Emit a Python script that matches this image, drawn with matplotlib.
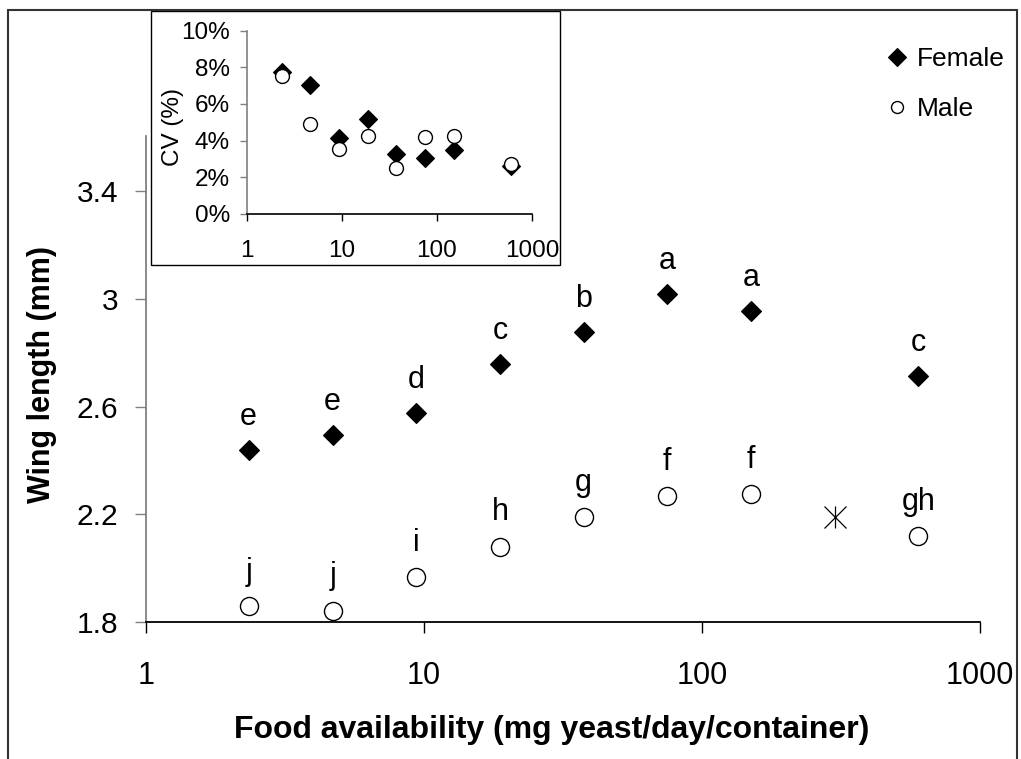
import matplotlib
matplotlib.use("Agg")
import matplotlib.pyplot as plt
from matplotlib.lines import Line2D
from matplotlib.patches import Rectangle
from matplotlib.ticker import FixedLocator, FuncFormatter, NullLocator, PercentFormatter

plt.rcParams['font.family'] = ['Liberation Sans', 'DejaVu Sans']

# food levels (mg yeast/day/container)
food = [2.34, 4.69, 9.38, 18.75, 37.5, 75, 150, 600]
female_wing = [2.439, 2.495, 2.575, 2.759, 2.877, 3.018, 2.956, 2.715]
male_wing = [1.859, 1.842, 1.967, 2.080, 2.189, 2.268, 2.274, 2.119]
female_groups = ['e', 'e', 'd', 'c', 'b', 'a', 'a', 'c']
male_groups = ['j', 'j', 'i', 'h', 'g', 'f', 'f', 'gh']
extra_food = [300]
extra_wing = [2.191]

# coefficient of variation (inset)
female_cv = [0.0776, 0.0704, 0.0416, 0.0517, 0.0327, 0.0307, 0.0349, 0.0262]
male_cv = [0.0755, 0.0491, 0.0353, 0.0427, 0.0253, 0.0418, 0.0427, 0.0273]

x_ticks = [1, 10, 100, 1000]
y_ticks = [1.8, 2.2, 2.6, 3.0, 3.4]
cv_ticks = [0, 0.02, 0.04, 0.06, 0.08, 0.10]

gray = '#808080'
fmt_g = FuncFormatter(lambda v, p: '%g' % v)

fig = plt.figure(figsize=(10.21, 7.59), dpi=100)

# main plot
ax = fig.add_axes([0.143, 0.1805, 0.8168, 0.6403], zorder=0)
ax.set_xscale('log')
ax.set_xlim(1, 1000)
ax.set_ylim(1.8, 3.605)
ax.plot(food, female_wing, ls='none', marker='D', ms=10.3, mfc='black', mec='black', mew=0.8)
ax.plot(food, male_wing, ls='none', marker='o', ms=13, mfc='white', mec='black', mew=1.0)
ax.plot(extra_food, extra_wing, ls='none', marker='x', ms=15.5, mec='black', mew=0.9)
ax.plot(extra_food, extra_wing, ls='none', marker='|', ms=16.5, mec='black', mew=0.9)

for x, y, s in zip(food, female_wing, female_groups):
    ax.annotate(s, (x, y), xytext=(0, 18), textcoords='offset points',
                ha='center', va='baseline', fontsize=22)
for x, y, s in zip(food, male_wing, male_groups):
    ax.annotate(s, (x, y), xytext=(0, 19), textcoords='offset points',
                ha='center', va='baseline', fontsize=22)

ax.spines[['top', 'right']].set_visible(False)
ax.spines['left'].set_color(gray)
ax.spines['left'].set_linewidth(1.3)
ax.spines['bottom'].set_color('black')
ax.spines['bottom'].set_linewidth(1.3)
ax.xaxis.set_major_locator(FixedLocator(x_ticks))
ax.xaxis.set_minor_locator(NullLocator())
ax.xaxis.set_major_formatter(fmt_g)
ax.yaxis.set_major_locator(FixedLocator(y_ticks))
ax.yaxis.set_major_formatter(fmt_g)
ax.tick_params(axis='y', direction='out', length=8, width=1, color=gray, pad=12, labelsize=21.5)
ax.tick_params(axis='x', direction='out', length=8, width=1, color='black', pad=20, labelsize=22)

ax.set_xlabel('Food availability (mg yeast/day/container)', fontsize=23, fontweight='bold')
ax.xaxis.label.set_va('center')
ax.xaxis.set_label_coords(0.486, -0.222)
ax.set_ylabel('Wing length (mm)', fontsize=22, fontweight='bold')
ax.yaxis.label.set_va('center')
ax.yaxis.set_label_coords(-0.1247, 0.51)

handles = [
    Line2D([], [], ls='none', marker='D', ms=9.5, mfc='black', mec='black', mew=0.8),
    Line2D([], [], ls='none', marker='o', ms=8.6, mfc='white', mec='black', mew=1.0),
]
ax.legend(handles, ['Female', 'Male'], loc='upper left', bbox_to_anchor=(0.8683, 0.9375),
          bbox_transform=fig.transFigure, frameon=False, fontsize=19, numpoints=1,
          handlelength=0.8, handletextpad=0.36, labelspacing=0.98,
          borderpad=0, borderaxespad=0)

# inset box
fig.add_artist(Rectangle((0.1479, 0.6509), 0.4006, 0.3347, transform=fig.transFigure,
                         facecolor='white', edgecolor='black', lw=1.0, zorder=1))

ins = fig.add_axes([0.2416, 0.7181, 0.2794, 0.2415], zorder=2)
ins.patch.set_visible(False)
ins.set_xscale('log')
ins.set_xlim(1, 1000)
ins.set_ylim(0, 0.10)
ins.plot(food, female_cv, ls='none', marker='D', ms=9.2, mfc='black', mec='black', mew=0.8)
ins.plot(food, male_cv, ls='none', marker='o', ms=10, mfc='white', mec='black', mew=1.0)
ins.spines[['top', 'right']].set_visible(False)
ins.spines['left'].set_color(gray)
ins.spines['left'].set_linewidth(1.2)
ins.spines['bottom'].set_color('black')
ins.spines['bottom'].set_linewidth(1.2)
ins.xaxis.set_major_locator(FixedLocator(x_ticks))
ins.xaxis.set_minor_locator(NullLocator())
ins.xaxis.set_major_formatter(fmt_g)
ins.yaxis.set_major_locator(FixedLocator(cv_ticks))
ins.yaxis.set_major_formatter(PercentFormatter(1.0, decimals=0))
ins.tick_params(axis='y', direction='out', length=5, width=1, color=gray, pad=7, labelsize=17.5)
ins.tick_params(axis='x', direction='out', length=5, width=1, color='black', pad=14, labelsize=17.5)
ins.set_ylabel('CV (%)', fontsize=17.5)
ins.yaxis.label.set_va('center')
ins.yaxis.set_label_coords(-0.258, 0.475)

# outer frame
fig.add_artist(Rectangle((0.0078, -0.05), 0.9887, 1.0368, transform=fig.transFigure,
                         fill=False, edgecolor='#333333', lw=1.5, zorder=5, clip_on=False))

fig.savefig('out.png', dpi=100)
